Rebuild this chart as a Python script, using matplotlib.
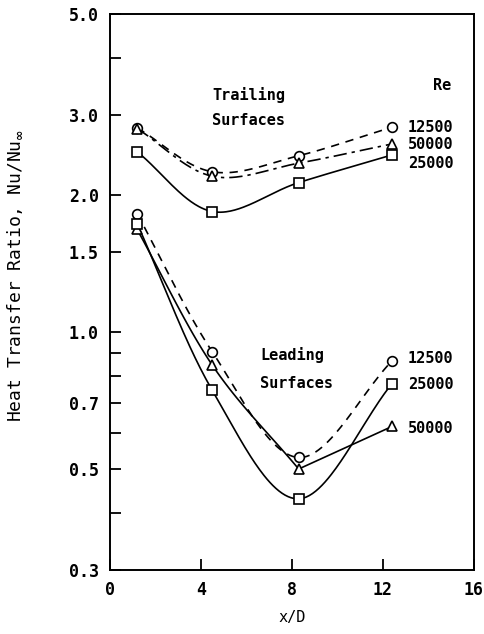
import numpy as np
import matplotlib.pyplot as plt
from matplotlib.ticker import FixedLocator, NullFormatter

plt.rcParams['font.family'] = 'DejaVu Sans Mono'
plt.rcParams['font.weight'] = 'bold'

# x/D stations
xd = [1.2, 4.5, 8.3, 12.4]

# trailing surfaces
trail_12500 = [2.81, 2.25, 2.44, 2.82]
trail_25000 = [2.49, 1.84, 2.13, 2.45]
trail_50000 = [2.80, 2.20, 2.35, 2.59]

# leading surfaces
lead_12500 = [1.82, 0.905, 0.53, 0.864]
lead_25000 = [1.73, 0.745, 0.43, 0.77]
lead_50000 = [1.68, 0.846, 0.50, 0.62]

yticks_major = [0.3, 0.5, 0.7, 1.0, 1.5, 2.0, 3.0, 5.0]
yticks_minor = [0.4, 0.6, 0.8, 0.9, 4.0]


def smooth(x, y, n=60):
    # catmull-rom curve through the points, in log space
    p = np.column_stack([x, np.log(y)])
    m = np.zeros_like(p)
    m[1:-1] = (p[2:] - p[:-2]) / 2
    m[0] = p[1] - p[0]
    m[-1] = p[-1] - p[-2]
    t = np.linspace(0, 1, n)[:, None]
    h00 = 2 * t**3 - 3 * t**2 + 1
    h10 = t**3 - 2 * t**2 + t
    h01 = -2 * t**3 + 3 * t**2
    h11 = t**3 - t**2
    segs = [h00 * p[i] + h10 * m[i] + h01 * p[i + 1] + h11 * m[i + 1]
            for i in range(len(p) - 1)]
    c = np.vstack(segs)
    return c[:, 0], np.exp(c[:, 1])


fig = plt.figure(figsize=(4.84, 6.34), dpi=100)
ax = fig.add_axes([0.227, 0.101, 0.752, 0.877])
ax.set_yscale('log')

lw = 1.2
ms = 7
mk = dict(mfc='white', mec='black', mew=1.2, ls='none', ms=ms, zorder=3)
dash = (0, (5, 4))
dashdot = (0, (8, 3, 2, 3))

# trailing
ax.plot(*smooth(xd, trail_12500), 'k', ls=dash, lw=lw)
ax.plot(*smooth(xd, trail_50000), 'k', ls=dashdot, lw=lw)
ax.plot(*smooth(xd, trail_25000), 'k', lw=lw)
ax.plot(xd, trail_12500, marker='o', **mk)
ax.plot(xd, trail_50000, marker='^', **mk)
ax.plot(xd, trail_25000, marker='s', **mk)

# leading
ax.plot(*smooth(xd, lead_12500), 'k', ls=dash, lw=lw)
ax.plot(*smooth(xd, lead_25000), 'k', lw=lw)
ax.plot(*smooth(xd[:3], lead_50000[:3]), 'k', lw=lw)
ax.plot(xd[2:], lead_50000[2:], 'k', lw=lw)
ax.plot(xd, lead_12500, marker='o', **mk)
ax.plot(xd, lead_50000, marker='^', **mk)
ax.plot(xd, lead_25000, marker='s', **mk)

fs = 11
ax.text(4.5, 3.32, 'Trailing', fontsize=fs, va='center')
ax.text(4.5, 2.92, 'Surfaces', fontsize=fs, va='center')
ax.text(6.6, 0.89, 'Leading', fontsize=fs, va='center')
ax.text(6.6, 0.77, 'Surfaces', fontsize=fs, va='center')
ax.text(14.6, 3.49, 'Re', fontsize=fs, va='center', ha='center')

ax.text(13.1, 2.82, '12500', fontsize=fs, va='center')
ax.text(13.1, 2.58, '50000', fontsize=fs, va='center')
ax.text(13.1, 2.35, '25000', fontsize=fs, va='center')
ax.text(13.1, 0.875, '12500', fontsize=fs, va='center')
ax.text(13.1, 0.765, '25000', fontsize=fs, va='center')
ax.text(13.1, 0.615, '50000', fontsize=fs, va='center')

ax.set_xlim(0, 16)
ax.set_ylim(0.3, 5.0)
ax.set_xticks([0, 4, 8, 12, 16])
ax.yaxis.set_major_locator(FixedLocator(yticks_major))
ax.yaxis.set_minor_locator(FixedLocator(yticks_minor))
ax.set_yticklabels([f'{v:.1f}' for v in yticks_major])
ax.yaxis.set_minor_formatter(NullFormatter())
ax.tick_params(which='both', direction='in', length=8, width=1.3, labelsize=12, pad=8)
for s in ax.spines.values():
    s.set_linewidth(1.4)

ax.set_xlabel('x/D', fontsize=11, labelpad=8)
ax.set_ylabel(r'Heat Transfer Ratio, Nu/Nu$_\infty$', fontsize=13)
ax.yaxis.set_label_coords(-0.235, 0.53)

fig.savefig('out.png', dpi=100)
